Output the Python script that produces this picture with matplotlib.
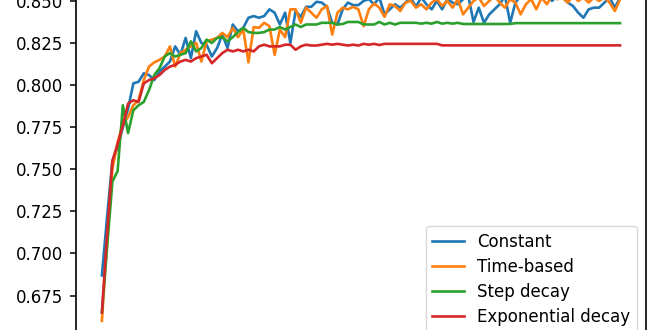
import numpy as np
import matplotlib
matplotlib.use("Agg")
import matplotlib.pyplot as plt

# === Data ===

epochs = np.arange(100)

constant = [
    0.687, 0.722, 0.755, 0.763, 0.775, 0.786, 0.801, 0.802, 0.807, 0.806,
    0.803, 0.808, 0.811, 0.814, 0.823, 0.818, 0.828, 0.816, 0.832, 0.825,
    0.824, 0.817, 0.822, 0.830, 0.822, 0.836, 0.832, 0.834, 0.840, 0.841,
    0.840, 0.841, 0.845, 0.843, 0.836, 0.843, 0.825, 0.844, 0.8405, 0.8465,
    0.8465, 0.8495, 0.849, 0.8465, 0.837, 0.836, 0.845, 0.849, 0.8475, 0.8475,
    0.850, 0.851, 0.848, 0.852, 0.842, 0.845, 0.848, 0.846, 0.849, 0.852,
    0.8465, 0.852, 0.848, 0.845, 0.850, 0.845, 0.851, 0.849, 0.848, 0.851,
    0.853, 0.8375, 0.846, 0.837, 0.842, 0.845, 0.848, 0.853, 0.837, 0.849,
    0.853, 0.855, 0.852, 0.854, 0.851, 0.853, 0.850, 0.853, 0.852, 0.849,
    0.847, 0.843, 0.840, 0.845, 0.846, 0.846, 0.849, 0.852, 0.846, 0.852,
]

time_based = [
    0.660, 0.708, 0.750, 0.766, 0.777, 0.781, 0.788, 0.791, 0.803, 0.811,
    0.8135, 0.815, 0.817, 0.823, 0.811, 0.819, 0.821, 0.823, 0.825, 0.814,
    0.826, 0.827, 0.828, 0.831, 0.8285, 0.834, 0.8285, 0.833, 0.8135, 0.8345,
    0.834, 0.837, 0.835, 0.818, 0.833, 0.8285, 0.845, 0.845, 0.837, 0.846,
    0.843, 0.840, 0.845, 0.847, 0.830, 0.843, 0.846, 0.845, 0.8465, 0.845,
    0.835, 0.845, 0.8485, 0.846, 0.8405, 0.848, 0.847, 0.844, 0.849, 0.850,
    0.846, 0.848, 0.845, 0.849, 0.851, 0.847, 0.850, 0.846, 0.851, 0.842,
    0.846, 0.850, 0.852, 0.847, 0.850, 0.853, 0.849, 0.846, 0.851, 0.849,
    0.842, 0.848, 0.851, 0.845, 0.852, 0.848, 0.853, 0.851, 0.852, 0.849,
    0.853, 0.850, 0.852, 0.849, 0.852, 0.850, 0.852, 0.849, 0.844, 0.851,
]

step_decay = [
    0.665, 0.704, 0.7426, 0.749, 0.788, 0.7715, 0.785, 0.788, 0.790, 0.797,
    0.806, 0.810, 0.817, 0.819, 0.817, 0.818, 0.819, 0.826, 0.820, 0.822,
    0.827, 0.825, 0.828, 0.8285, 0.826, 0.8285, 0.8315, 0.834, 0.8315, 0.831,
    0.831, 0.8315, 0.833, 0.833, 0.8345, 0.833, 0.8345, 0.836, 0.8345, 0.836,
    0.836, 0.836, 0.837, 0.837, 0.837, 0.836, 0.8363, 0.8375, 0.8375, 0.8375,
    0.836, 0.836, 0.836, 0.8375, 0.836, 0.837, 0.836, 0.837, 0.837, 0.837,
    0.837, 0.8365, 0.837, 0.8365, 0.8375, 0.8365, 0.837, 0.8365, 0.837, 0.8363,
    0.8363, 0.8363, 0.8363, 0.8363, 0.8363, 0.8363, 0.8363, 0.8363, 0.8363, 0.8368,
    0.8368, 0.8368, 0.8368, 0.8368, 0.8368, 0.8368, 0.8368, 0.8368, 0.8368, 0.8368,
    0.8368, 0.8368, 0.8368, 0.8368, 0.8368, 0.8368, 0.8368, 0.8368, 0.8368, 0.8368,
]

exponential_decay = [
    0.665, 0.712, 0.755, 0.765, 0.776, 0.789, 0.791, 0.790, 0.801, 0.803,
    0.804, 0.806, 0.809, 0.811, 0.812, 0.814, 0.815, 0.814, 0.816, 0.817,
    0.818, 0.813, 0.816, 0.819, 0.821, 0.820, 0.821, 0.820, 0.821, 0.820,
    0.823, 0.824, 0.823, 0.823, 0.823, 0.824, 0.824, 0.821, 0.823, 0.824,
    0.8235, 0.8235, 0.824, 0.8245, 0.824, 0.8245, 0.824, 0.8235, 0.824, 0.8235,
    0.8245, 0.824, 0.8245, 0.8238, 0.8245, 0.8245, 0.8245, 0.8245, 0.8245, 0.8245,
    0.8245, 0.8245, 0.8245, 0.8245, 0.8245, 0.8236, 0.8236, 0.8236, 0.8236, 0.8236,
    0.8236, 0.8236, 0.8236, 0.8236, 0.8236, 0.8236, 0.8236, 0.8236, 0.8236, 0.8236,
    0.8236, 0.8236, 0.8236, 0.8236, 0.8236, 0.8236, 0.8236, 0.8236, 0.8236, 0.8236,
    0.8236, 0.8236, 0.8236, 0.8236, 0.8236, 0.8236, 0.8236, 0.8236, 0.8236, 0.8236,
]

labels = ["Constant", "Time-based", "Step decay", "Exponential decay"]
y_ticks = [0.675, 0.700, 0.725, 0.750, 0.775, 0.800, 0.825, 0.850]

# === Plotting ===

plt.rcParams["font.size"] = 12

fig = plt.figure(figsize=(6.6, 3.3), dpi=100)
# the reference is a crop of a taller chart: axes run past top and bottom
ax = fig.add_axes([76 / 660, -40 / 330, 570 / 660, 410 / 330])

for series, label in zip([constant, time_based, step_decay, exponential_decay], labels):
    ax.plot(epochs, series, label=label, linewidth=1.9)

ax.set_ylim(0.6308, 0.8743)
ax.set_yticks(y_ticks)
ax.tick_params(axis="both", length=4.5, width=1.1, pad=5)
# x tick labels sit below the cropped area
ax.tick_params(axis="x", labelbottom=False)
for spine in ax.spines.values():
    spine.set_linewidth(1.2)

ax.legend(loc="upper right", bbox_to_anchor=(637 / 660, 1 - 226 / 330),
          bbox_transform=fig.transFigure, borderaxespad=0, fontsize=12,
          labelspacing=0.42, handlelength=1.9)

fig.savefig("out.png", dpi=100)
